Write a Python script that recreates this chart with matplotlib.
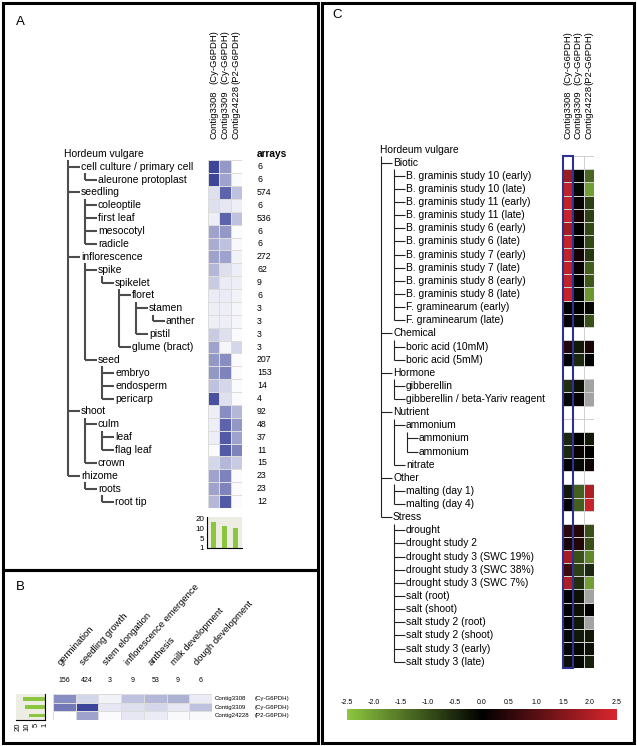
import numpy as np
import matplotlib
matplotlib.use('Agg')
import matplotlib.pyplot as plt
from matplotlib.colors import LinearSegmentedColormap, ListedColormap, Normalize
from matplotlib.patches import Rectangle
from matplotlib.ticker import NullLocator
import matplotlib.cm as cm

plt.rcParams['font.family'] = ['Liberation Sans', 'DejaVu Sans']

# ---------------- data ----------------
contigs = ['Contig3308', 'Contig3309', 'Contig24228']
genes = ['(Cy-G6PDH)', '(Cy-G6PDH)', '(P2-G6PDH)']

# panel A: anatomy tree
anat_labels = ['Hordeum vulgare', 'cell culture / primary cell', 'aleurone protoplast', 'seedling',
               'coleoptile', 'first leaf', 'mesocotyl', 'radicle', 'inflorescence', 'spike',
               'spikelet', 'floret', 'stamen', 'anther', 'pistil', 'glume (bract)', 'seed',
               'embryo', 'endosperm', 'pericarp', 'shoot', 'culm', 'leaf', 'flag leaf', 'crown',
               'rhizome', 'roots', 'root tip']
anat_depth = [0, 1, 2, 1, 2, 2, 2, 2, 1, 2, 3, 4, 5, 6, 5, 4, 2, 3, 3, 3, 1, 2, 3, 3, 2, 1, 2, 3]
anat_arrays = [6, 6, 574, 6, 536, 6, 6, 272, 62, 9, 6, 3, 3, 3, 3, 207, 153, 14, 4, 92, 48, 37,
               11, 15, 23, 23, 12]
anat_3308 = [0.9, 0.9, 0.15, 0.15, 0.08, 0.45, 0.4, 0.45, 0.35, 0.25, 0.1, 0.08, 0.08, 0.25,
             0.45, 0.5, 0.5, 0.3, 0.85, 0.08, 0.08, 0.08, 0.02, 0.2, 0.45, 0.45, 0.35]
anat_3309 = [0.5, 0.45, 0.75, 0.12, 0.75, 0.5, 0.3, 0.45, 0.15, 0.1, 0.1, 0.08, 0.08, 0.15,
             0.05, 0.55, 0.6, 0.2, 0.15, 0.55, 0.75, 0.8, 0.8, 0.35, 0.6, 0.6, 0.8]
anat_24228 = [0.0, 0.02, 0.3, 0.08, 0.3, 0.02, 0.03, 0.06, 0.08, 0.08, 0.06, 0.05, 0.05, 0.02,
              0.2, 0.02, 0.02, 0.02, 0.02, 0.35, 0.5, 0.45, 0.6, 0.25, 0.02, 0.02, 0.02]
anat_bars = [17, 12.5, 10.5]

# panel B: development
dev_stages = ['germination', 'seedling growth', 'stem elongation', 'inflorescence emergence',
              'anthesis', 'milk development', 'dough development']
dev_arrays = [156, 424, 3, 9, 53, 9, 6]
dev_3308 = [0.55, 0.2, 0.06, 0.3, 0.35, 0.38, 0.1]
dev_3309 = [0.65, 0.9, 0.12, 0.15, 0.2, 0.12, 0.3]
dev_24228 = [0.0, 0.45, 0.02, 0.12, 0.1, 0.03, 0.03]
dev_bars = [14, 12, 9]

# panel C: stimulus tree (None = category row, nan = no data)
nan = np.nan
stim_labels = ['Hordeum vulgare', 'Biotic',
               'B. graminis study 10 (early)', 'B. graminis study 10 (late)',
               'B. graminis study 11 (early)', 'B. graminis study 11 (late)',
               'B. graminis study 6 (early)', 'B. graminis study 6 (late)',
               'B. graminis study 7 (early)', 'B. graminis study 7 (late)',
               'B. graminis study 8 (early)', 'B. graminis study 8 (late)',
               'F. graminearum (early)', 'F. graminearum (late)',
               'Chemical', 'boric acid (10mM)', 'boric acid (5mM)',
               'Hormone', 'gibberellin', 'gibberellin / beta-Yariv reagent',
               'Nutrient', 'ammonium', 'ammonium', 'ammonium', 'nitrate',
               'Other', 'malting (day 1)', 'malting (day 4)',
               'Stress', 'drought', 'drought study 2', 'drought study 3 (SWC 19%)',
               'drought study 3 (SWC 38%)', 'drought study 3 (SWC 7%)', 'salt (root)',
               'salt (shoot)', 'salt study 2 (root)', 'salt study 2 (shoot)',
               'salt study 3 (early)', 'salt study 3 (late)']
stim_depth = [0, 1] + [2] * 12 + [1, 2, 2, 1, 2, 2, 1, 2, 3, 3, 2, 1, 2, 2, 1] + [2] * 11
stim_3308 = [None, 1.8, 2.2, 2.2, 2.3, 1.9, 2.3, 2.2, 2.2, 2.2, 2.3, 0.05, 0.1,
             None, 0.4, 0.0, None, -0.6, -0.1, None, None, -0.5, -0.5, 0.0,
             None, -0.3, 0.0, None, 0.5, 0.3, 1.9, 0.7, 2.0, 0.0, 0.0, 0.0, -0.1, -0.1, -0.2]
stim_3309 = [None, -0.1, -0.1, 0.1, 0.2, 0.0, 0.0, 0.2, 0.1, 0.0, -0.1, 0.0, -0.1,
             None, -0.3, -0.5, None, -0.2, 0.1, None, None, 0.0, 0.1, -0.1,
             None, -1.2, -1.2, None, 0.4, 0.4, -1.0, -0.8, -0.6, -0.2, -0.2, -0.3, -0.3, -0.1, -0.1]
stim_24228 = [None, -1.3, -2.0, -0.8, -0.8, -0.9, -0.9, -0.7, -1.2, -1.1, -1.9, -0.1, -1.0,
              None, 0.3, 0.0, None, nan, nan, None, None, -0.3, 0.0, 0.15,
              None, 2.0, 2.3, None, -1.0, -1.0, -1.7, -0.5, -2.0, nan, 0.0, nan, -0.3, -0.2, -0.4]
cbar_ticks = [-2.5, -2.0, -1.5, -1.0, -0.5, 0.0, 0.5, 1.0, 1.5, 2.0, 2.5]
bar_ticks = [1, 5, 10, 20]

# ---------------- figure ----------------
W, H = 637, 746
fig = plt.figure(figsize=(W / 100, H / 100), dpi=100)


def px_axes(x0, y0, x1, y1):
    return fig.add_axes([x0 / W, 1 - y1 / H, (x1 - x0) / W, (y1 - y0) / H])


ov = px_axes(0, 0, W, H)
ov.set_xlim(0, W)
ov.set_ylim(H, 0)
ov.axis('off')


def draw_tree(labels, depths, y0, dy, tx, vx, fs, lc, lw):
    ys = [y0 + dy * i for i in range(len(labels))]
    for i, (lab, d) in enumerate(zip(labels, depths)):
        ov.text(tx(d), ys[i], lab, fontsize=fs, ha='left', va='center')
        if d > 0:
            ov.plot([vx(d - 1), tx(d) - 1.5], [ys[i], ys[i]], color=lc, lw=lw,
                    solid_capstyle='butt')
    for p, d in enumerate(depths):
        last = None
        for i in range(p + 1, len(depths)):
            if depths[i] <= d:
                break
            if depths[i] == d + 1:
                last = i
        if last is not None:
            ov.plot([vx(d), vx(d)], [ys[p] + dy * 0.5, ys[last]], color=lc, lw=lw,
                    solid_capstyle='butt')
    return ys


def interp_fwd(v):
    return np.interp(v, [1, 5, 10, 20, 40], [0, 1, 2, 3, 4])


def interp_inv(u):
    return np.interp(u, [0, 1, 2, 3, 4], [1, 5, 10, 20, 40])


green = '#8cc63f'
cmap_blue = LinearSegmentedColormap.from_list('blue', ['#ffffff', '#28318f'])
cmap_gr = LinearSegmentedColormap.from_list('gkr', ['#8dc63f', '#000000', '#d9262e'])

# ---------------- panel A ----------------
dy_a = 12.88
ys_a = draw_tree(anat_labels, anat_depth, 153.8, dy_a,
                 lambda d: 64 + 17 * d, lambda d: 68 + 17 * d, 7.5, '#4d4d4d', 1.5)
a_x0, a_x1 = 208, 242
axA = px_axes(a_x0, ys_a[1] - dy_a / 2, a_x1, ys_a[-1] + dy_a / 2)
mat_a = np.array([anat_3308, anat_3309, anat_24228]).T
axA.pcolormesh(mat_a, cmap=cmap_blue, vmin=0, vmax=1, edgecolors='#dcdcdc', linewidth=0.6)
axA.set_xlim(0, 3)
axA.set_ylim(len(mat_a), 0)
axA.axis('off')

ov.text(257, ys_a[0], 'arrays', fontsize=7.3, fontweight='bold', va='center')
for i, n in enumerate(anat_arrays):
    ov.text(257, ys_a[i + 1], str(n), fontsize=6.3, va='center')

cw = (a_x1 - a_x0) / 3
for k in range(3):
    cx = a_x0 + cw * (k + 0.5)
    ov.text(cx, 139, contigs[k], rotation=90, ha='center', va='bottom', fontsize=6.8)
    ov.text(cx, 84, genes[k], rotation=90, ha='center', va='bottom', fontsize=6.8)

axBa = px_axes(207, 516.7, 242, 547.7)
axBa.set_yscale('function', functions=(interp_fwd, interp_inv))
axBa.bar(range(3), np.array(anat_bars) - 1, bottom=1, width=0.45, color=green)
axBa.set_xlim(-0.55, 2.55)
axBa.set_ylim(1, 24.5)
axBa.set_facecolor('#ededE4')
for s in ['top', 'right']:
    axBa.spines[s].set_visible(False)
for s in ['left', 'bottom']:
    axBa.spines[s].set_linewidth(0.8)
axBa.set_yticks(bar_ticks)
axBa.set_yticklabels([str(t) for t in bar_ticks])
axBa.yaxis.set_minor_locator(NullLocator())
axBa.set_xticks([])
axBa.tick_params(axis='y', length=0, labelsize=5.8, pad=2)

# ---------------- panel B ----------------
b_x0, b_x1, b_y0, b_y1 = 53, 212, 694, 720
axHB = px_axes(b_x0, b_y0, b_x1, b_y1)
mat_b = np.array([dev_3308, dev_3309, dev_24228])
axHB.pcolormesh(mat_b, cmap=cmap_blue, vmin=0, vmax=1, edgecolors='#dcdcdc', linewidth=0.6)
axHB.set_xlim(0, 7)
axHB.set_ylim(3, 0)
axHB.axis('off')

bw = (b_x1 - b_x0) / 7
for j, (st, n) in enumerate(zip(dev_stages, dev_arrays)):
    cx = b_x0 + bw * (j + 0.5)
    ov.text(cx - 2, 667, st, rotation=48, rotation_mode='anchor', ha='left', va='bottom',
            fontsize=6.8)
    ov.text(cx, 680, str(n), ha='center', va='center', fontsize=5)
bh = (b_y1 - b_y0) / 3
for k in range(3):
    ry = b_y0 + bh * (k + 0.5)
    ov.text(215, ry, contigs[k], fontsize=4.4, va='center')
    ov.text(255, ry, genes[k], fontsize=4.4, va='center')

axBb = px_axes(16, 694, 45, 720)
axBb.set_xscale('function', functions=(interp_fwd, interp_inv))
axBb.barh(range(3), np.array(dev_bars) - 1, left=1, height=0.4, color=green)
axBb.set_xlim(24, 1)
axBb.set_ylim(2.6, -0.6)
axBb.set_facecolor('#ededE4')
for s in ['top', 'left']:
    axBb.spines[s].set_visible(False)
for s in ['right', 'bottom']:
    axBb.spines[s].set_linewidth(0.8)
axBb.set_xticks(bar_ticks)
axBb.set_xticklabels([str(t) for t in bar_ticks], rotation=90)
axBb.xaxis.set_minor_locator(NullLocator())
axBb.set_yticks([])
axBb.tick_params(axis='x', length=0, labelsize=5.5, pad=2)

# ---------------- panel C ----------------
dy_c = 13.13
ys_c = draw_tree(stim_labels, stim_depth, 149.57, dy_c,
                 lambda d: 380 + 13 * d, lambda d: 381 + 13 * d, 7.4, '#222222', 0.8)
c_x0, c_x1 = 562.7, 594
axC = px_axes(c_x0, ys_c[1] - dy_c / 2, c_x1, ys_c[-1] + dy_c / 2)
raw_c = [stim_3308, stim_3309, stim_24228]
mat_c = np.array([[nan if v is None else v for v in col] for col in raw_c]).T
empty = np.array([[v is None for v in col] for col in raw_c]).T
cm_c = cmap_gr.copy()
cm_c.set_bad('#a3a3a3')
axC.pcolormesh(np.ma.masked_invalid(mat_c), cmap=cm_c, vmin=-2.5, vmax=2.5,
               edgecolors='#8a8a8a', linewidth=0.5)
axC.pcolormesh(np.ma.masked_where(~empty, np.zeros(mat_c.shape)), cmap=ListedColormap(['white']),
               edgecolors='#d0d0d0', linewidth=0.5)
axC.add_patch(Rectangle((0, 0), 1, len(mat_c), fill=False, ec='#2e3192', lw=1.5, clip_on=False))
axC.set_xlim(0, 3)
axC.set_ylim(len(mat_c), 0)
axC.axis('off')

cwc = (c_x1 - c_x0) / 3
for k in range(3):
    cx = c_x0 + cwc * (k + 0.5)
    ov.text(cx, 139, contigs[k], rotation=90, ha='center', va='bottom', fontsize=6.8)
    ov.text(cx, 85, genes[k], rotation=90, ha='center', va='bottom', fontsize=6.8)

cax = px_axes(347, 709, 617, 720)
cb = fig.colorbar(cm.ScalarMappable(norm=Normalize(-2.5, 2.5), cmap=cmap_gr), cax=cax,
                  orientation='horizontal')
cb.outline.set_visible(False)
cb.set_ticks(cbar_ticks)
cb.set_ticklabels(['%.1f' % t for t in cbar_ticks])
cax.xaxis.set_ticks_position('top')
cax.tick_params(length=0, labelsize=5, pad=2)

# ---------------- panel frames and letters ----------------
for x0, y0, x1, y1 in [(3, 3, 318, 570), (3, 570, 318, 743), (322, 3, 634, 743)]:
    ov.add_patch(Rectangle((x0, y0), x1 - x0, y1 - y0, fill=False, ec='black', lw=2.2))
ov.text(20.7, 21.7, 'A', fontsize=9.5, ha='center', va='center')
ov.text(20, 587, 'B', fontsize=9.5, ha='center', va='center')
ov.text(337, 15, 'C', fontsize=9.5, ha='center', va='center')

fig.savefig('out.png', dpi=100)
